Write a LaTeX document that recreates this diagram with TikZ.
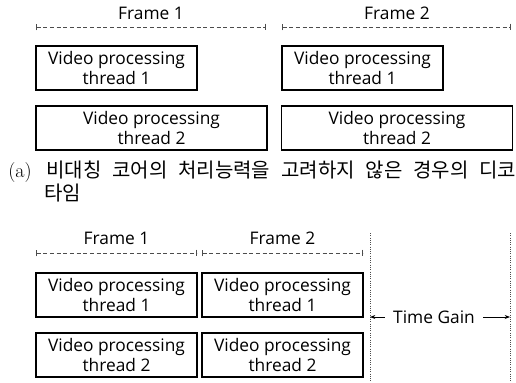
\documentclass[tikz,border=0pt]{standalone}
\usepackage{fontspec}
\setmainfont{Open Sans}
\newfontfamily\krfont{Noto Sans CJK KR}
\newfontfamily\lmfont{Latin Modern Roman}
\usetikzlibrary{arrows.meta}

\tikzset{
  thread/.style={draw, line width=1.1pt, inner sep=0pt, align=center,
    minimum height=33pt, font=\fontsize{13}{15.5}\selectfont},
  shortbox/.style={thread, minimum width=120.75pt},
  longbox/.style={thread, minimum width=173pt},
  framespan/.style={densely dashed, gray!60!black, line width=0.5pt, {|-|}},
  framelbl/.style={font=\fontsize{13}{15}\selectfont},
  gainline/.style={densely dotted, gray!60!black, line width=0.7pt}
}

\begin{document}
\begin{tikzpicture}[x=0.75pt,y=-0.75pt]
	\useasboundingbox (0,0) rectangle (516,382);

	% (a) upper timing
	\node[framelbl] (fa1) at (151,13) {Frame 1};
	\node[framelbl] (fa2) at (397,13) {Frame 2};
	\coordinate (fa1s) at (36,27);
	\coordinate (fa1e) at (266,27);
	\coordinate (fa2s) at (282,27);
	\coordinate (fa2e) at (511,27);
	\draw [framespan] (fa1s) -- (fa1e);
	\draw [framespan] (fa2s) -- (fa2e);

	\node[shortbox] (ta11) at (116.5,68) {Video processing\\thread 1};
	\node[longbox] (ta12) at (151.5,128) {Video processing\\thread 2};
	\node[shortbox] (ta21) at (362.5,68) {Video processing\\thread 1};
	\node[longbox] (ta22) at (397,128) {Video processing\\thread 2};

	% caption
	\node[anchor=base west, inner sep=0pt] (capa) at (8,177)
		{\makebox[381pt][s]{\lmfont\fontsize{15}{17}\selectfont (a) \krfont 비대칭 코어의 처리능력을 고려하지 않은 경우의 디코}};
	\node[anchor=base west, inner sep=0pt] (capb) at (44,200)
		{\krfont\fontsize{15}{17}\selectfont 타임};

	% (b) lower timing
	\node[framelbl] (fb1) at (116.5,238) {Frame 1};
	\node[framelbl] (fb2) at (282.5,238) {Frame 2};
	\coordinate (fb1s) at (36,253);
	\coordinate (fb1e) at (197,253);
	\coordinate (fb2s) at (202,253);
	\coordinate (fb2e) at (363,253);
	\draw [framespan] (fb1s) -- (fb1e);
	\draw [framespan] (fb2s) -- (fb2e);

	\node[shortbox] (tb11) at (116.5,295) {Video processing\\thread 1};
	\node[shortbox] (tb21) at (282.5,295) {Video processing\\thread 1};
	\node[shortbox] (tb12) at (116.5,355) {Video processing\\thread 2};
	\node[shortbox] (tb22) at (282.5,355) {Video processing\\thread 2};

	\coordinate (gl1) at (370,233);
	\coordinate (gl2) at (370,382);
	\coordinate (gr1) at (510,233);
	\coordinate (gr2) at (510,382);
	\draw [gainline] (gl1) -- (gl2);
	\draw [gainline] (gr1) -- (gr2);

	\node[framelbl, inner xsep=6pt] (gain) at (434,317) {Time Gain};
	\coordinate (gla) at (370,317);
	\coordinate (gra) at (510,317);
	\draw [-{Stealth[length=4pt,width=3pt]}, line width=0.6pt] (gain.west) -- (gla);
	\draw [-{Stealth[length=4pt,width=3pt]}, line width=0.6pt] (gain.east) -- (gra);
\end{tikzpicture}
\end{document}
